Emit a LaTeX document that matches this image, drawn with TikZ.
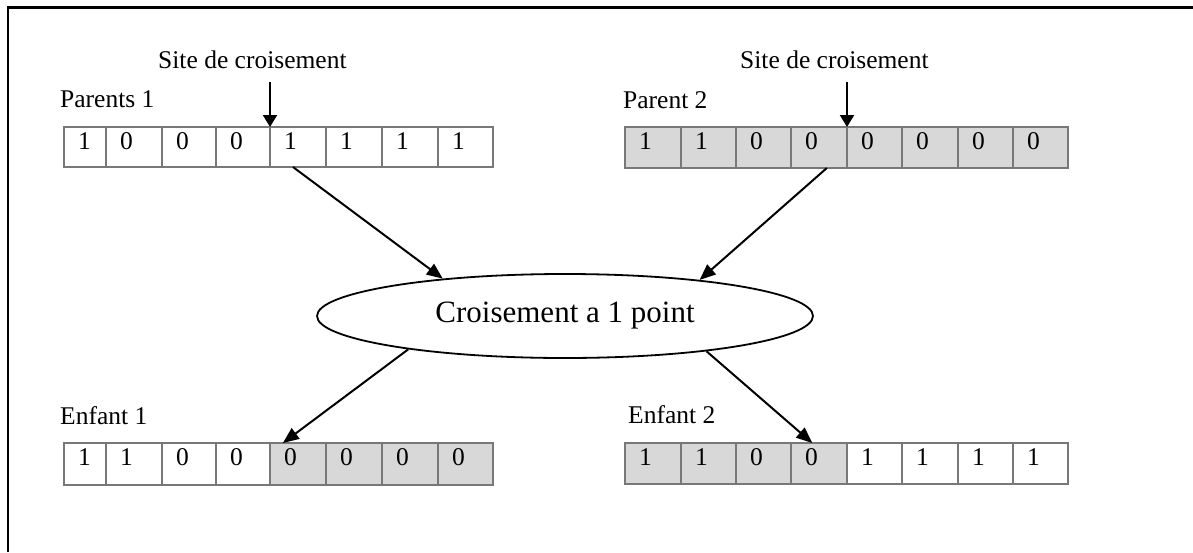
\documentclass[tikz,border=0pt]{standalone}
\usepackage{fontspec}
\setmainfont{Liberation Serif}
\usetikzlibrary{arrows.meta,calc,shapes.geometric}

\definecolor{cellgray}{RGB}{216,216,216}
\definecolor{cellline}{RGB}{120,120,120}

\tikzset{
  cell/.style={draw=cellline, line width=1.8pt, inner sep=0pt, outer sep=0pt},
  bit/.style={anchor=base, inner sep=0pt, font=\fontsize{25.5}{29}\selectfont},
  label/.style={anchor=base west, inner sep=0pt, font=\fontsize{25.5}{29}\selectfont},
  oval/.style={ellipse, draw, line width=1.8pt, inner sep=0pt,
    minimum width=496pt, minimum height=84pt, font=\fontsize{31}{35}\selectfont},
  cutarrow/.style={line width=2pt, -{Triangle[length=12pt,width=14pt]}},
  flowarrow/.style={line width=2pt, -{Triangle[length=16pt,width=13pt]}},
}

% one chromosome: #1 name, #2 top, #3 bottom, #4 list left/right/bit/fill
\newcommand\bitrow[4]{%
  \foreach \l/\r/\b/\s [count=\i] in {#4} {
    \node[cell, fill=\s, minimum width={\r-\l}, minimum height={#3-#2}]
      (#1c\i) at ({(\l+\r)/2},{(#2+#3)/2}) {};
    \node[bit] (#1b\i) at ({\l+20.5},{#2+22}) {\b};
  }%
}

\begin{document}
\begin{tikzpicture}[x=1pt, y=-1pt]
  \useasboundingbox (0,0) rectangle (1193,552);

  % page frame
  \draw[line width=2.5pt] (8,552) -- (8,7.5) -- (1193,7.5);

  % parents
  \bitrow{pa}{127}{167}{64/106/1/white, 106/162/0/white, 162/216/0/white, 216/270/0/white,
    270/326/1/white, 326/382/1/white, 382/438/1/white, 438/493/1/white}
  \bitrow{pb}{127}{168}{625/681/1/cellgray, 681/736/1/cellgray, 736/791/0/cellgray, 791/847/0/cellgray,
    847/902/0/cellgray, 902/958/0/cellgray, 958/1013/0/cellgray, 1013/1068/0/cellgray}

  % children
  \bitrow{ea}{443}{485}{64/106/1/white, 106/162/1/white, 162/216/0/white, 216/270/0/white,
    270/326/0/cellgray, 326/382/0/cellgray, 382/438/0/cellgray, 438/493/0/cellgray}
  \bitrow{eb}{443}{484}{625/681/1/cellgray, 681/736/1/cellgray, 736/791/0/cellgray, 791/847/0/cellgray,
    847/902/1/white, 902/958/1/white, 958/1013/1/white, 1013/1068/1/white}

  % labels
  \node[label] (lpa) at (60,107) {Parents 1};
  \node[label] (lpb) at (623,108) {Parent 2};
  \node[label] (lea) at (60,424) {Enfant 1};
  \node[label] (leb) at (628,423) {Enfant 2};
  \node[label] (sa) at (158,68) {Site de croisement};
  \node[label] (sb) at (740,68) {Site de croisement};

  % crossover operator
  \node[oval] (op) at (565,316) {\raisebox{3pt}{Croisement a 1 point}};

  % crossover sites
  \coordinate (sat) at (270,82);
  \coordinate (sbt) at (847,82);
  \draw[cutarrow] (sat) -- (pac4.north east);
  \draw[cutarrow] (sbt) -- (pbc4.north east);

  % flow between chromosomes and the operator
  \draw[flowarrow] ($(pac5.south west)!0.41!(pac5.south east)$) -- (op.163.7);
  \draw[flowarrow] ($(pbc4.south west)!0.64!(pbc4.south east)$) -- (op.15.5);
  \draw[flowarrow] (op.192.4) -- ($(eac5.north west)!0.23!(eac5.north east)$);
  \draw[flowarrow] (op.346.4) -- ($(ebc4.north west)!0.38!(ebc4.north east)$);
\end{tikzpicture}
\end{document}
